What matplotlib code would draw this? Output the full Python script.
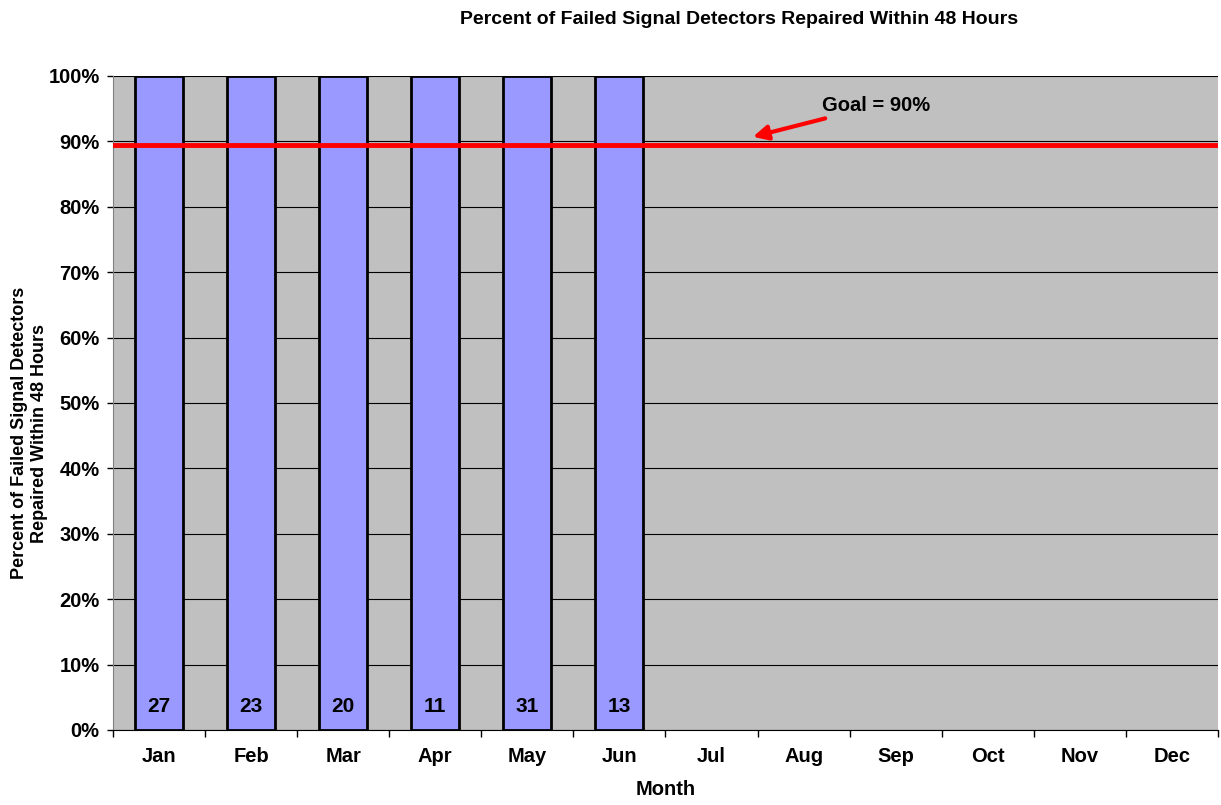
import matplotlib
matplotlib.use("Agg")
import matplotlib.pyplot as plt
from matplotlib.ticker import PercentFormatter

months = ["Jan", "Feb", "Mar", "Apr", "May", "Jun", "Jul", "Aug", "Sep", "Oct", "Nov", "Dec"]
pct_repaired = [1.0, 1.0, 1.0, 1.0, 1.0, 1.0]
counts = [27, 23, 20, 11, 31, 13]
goal = 0.895

plt.rcParams['font.family'] = ['Liberation Sans', 'DejaVu Sans']
plt.rcParams['font.weight'] = 'bold'

fig = plt.figure(figsize=(12.21, 8.05), dpi=100)
ax = fig.add_axes([0.0925, 0.0932, 0.905, 0.8124])
ax.set_facecolor('#c0c0c0')

x = list(range(len(pct_repaired)))
ax.bar(x, pct_repaired, width=0.52, color='#9999ff', edgecolor='black', linewidth=2, zorder=3)
for xi, c in zip(x, counts):
    ax.text(xi, 0.036, str(c), ha='center', va='center', fontsize=15, fontweight='bold', zorder=4)

ax.axhline(goal, color='#ff0000', linewidth=3.5, zorder=5)
ax.annotate('Goal = 90%', xy=(6.45, goal + 0.012), xytext=(7.2, 0.955),
            fontsize=14.5, fontweight='bold', va='center', ha='left',
            arrowprops=dict(arrowstyle='-|>', color='#ff0000', lw=3, mutation_scale=22,
                            shrinkA=2, shrinkB=0))

ax.set_xlim(-0.5, 11.5)
ax.set_ylim(0, 1.0)
ax.set_yticks([i / 10 for i in range(11)])
ax.yaxis.set_major_formatter(PercentFormatter(1.0, decimals=0))
ax.grid(axis='y', color='black', linewidth=0.8, zorder=1)
ax.set_axisbelow(True)

ax.set_xticks(range(12))
ax.set_xticklabels(months)
ax.set_xticks([i + 0.5 for i in range(-1, 12)], minor=True)
ax.tick_params(axis='x', which='major', length=0, pad=12, labelsize=14.5)
ax.tick_params(axis='x', which='minor', length=5, width=1)
ax.tick_params(axis='y', length=4.5, width=1, labelsize=14.5, pad=5)
for lbl in ax.get_xticklabels() + ax.get_yticklabels():
    lbl.set_fontweight('bold')

for s in ['top', 'right']:
    ax.spines[s].set_visible(False)
ax.spines['left'].set_color('#808080')
ax.spines['bottom'].set_color('black')

ax.set_xlabel('Month', fontsize=14.5, fontweight='bold', labelpad=10)
ax.set_ylabel('Percent of Failed Signal Detectors\nRepaired Within 48 Hours', fontsize=13,
              fontweight='bold')
ax.yaxis.set_label_coords(-0.059, 0.454)
fig.suptitle('Percent of Failed Signal Detectors Repaired Within 48 Hours', x=0.605, y=0.986,
             fontsize=14, fontweight='bold')

fig.savefig('out.png', dpi=100)
